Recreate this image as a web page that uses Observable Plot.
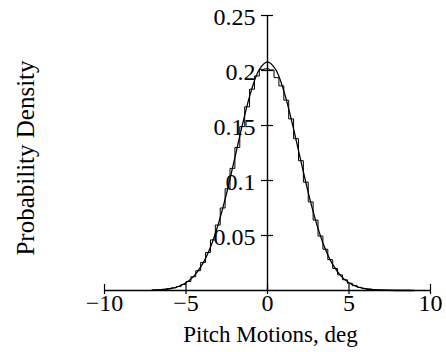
<!DOCTYPE html>
<html>
<head>
<meta charset="utf-8">
<script src="https://cdn.jsdelivr.net/npm/d3@7"></script>
<script src="https://cdn.jsdelivr.net/npm/@observablehq/plot@0.6"></script>
<style>
  html, body { margin: 0; padding: 0; background: #fff; }
  #chart svg { display: block; }
</style>
</head>
<body>
<div id="chart"></div>
<script>
// Histogram of pitch motions: first bin edge, bin width and density per bin
const binStart = -7.1;
const binWidth = 0.3;
const densities = [
  0.0006, 0.0008, 0.0010, 0.0016, 0.0024, 0.0036, 0.0055, 0.0082, 0.0125, 0.0180,
  0.0255, 0.0345, 0.0460, 0.0595, 0.0750, 0.0925, 0.1110, 0.1300, 0.1490, 0.1670,
  0.1830, 0.1950, 0.2010, 0.2015, 0.2005, 0.1935, 0.1860, 0.1730, 0.1560, 0.1380,
  0.1180, 0.0985, 0.0805, 0.0640, 0.0495, 0.0375, 0.0280, 0.0200, 0.0142, 0.0098,
  0.0066, 0.0044, 0.0028, 0.0018, 0.0012, 0.0008, 0.0006, 0.0005, 0.0004, 0.0003,
  0.0003, 0.0002, 0.0002
];

// Fitted normal density curve
const fitX = [-7, -6.5, -6, -5.5, -5, -4.5, -4, -3.5, -3, -2.5, -2, -1.5, -1, -0.5, 0,
              0.5, 1, 1.5, 2, 2.5, 3, 3.5, 4, 4.5, 5, 5.5, 6, 6.5, 7, 7.5, 8, 8.5, 9];
const fitY = [0.0003, 0.0007, 0.0016, 0.0034, 0.0070, 0.0133, 0.0237, 0.0394, 0.0613,
              0.0890, 0.1208, 0.1531, 0.1815, 0.2009, 0.2078, 0.2009, 0.1815, 0.1531,
              0.1208, 0.0890, 0.0613, 0.0394, 0.0237, 0.0133, 0.0070, 0.0034, 0.0016,
              0.0007, 0.0003, 0.0001, 0.0000, 0.0000, 0.0000];

// Axis ticks
const xTicks = [-10, -5, 0, 5, 10];
const xTickLabels = ["\u221210", "\u22125", "0", "5", "10"];
const yTicks = [0.05, 0.1, 0.15, 0.2, 0.25];
const yTickLabels = ["0.05", "0.1", "0.15", "0.2", "0.25"];

const xLabel = "Pitch Motions, deg";
const yLabel = "Probability Density";

// Outline of the histogram as a step path
const histPts = [{x: binStart, y: 0}];
densities.forEach((d, i) => histPts.push({x: binStart + i * binWidth, y: d}));
const binEnd = binStart + densities.length * binWidth;
histPts.push({x: binEnd, y: densities[densities.length - 1]});
histPts.push({x: binEnd, y: 0});

const fit = fitX.map((x, i) => ({x, y: fitY[i]}));

const font = "'Liberation Serif', 'Times New Roman', serif";
const fs = 24;

const chart = Plot.plot({
  width: 446,
  height: 352,
  marginLeft: 104,
  marginRight: 16,
  marginTop: 15,
  marginBottom: 62,
  style: {fontFamily: font, fontSize: fs + "px", background: "#fff", color: "#000"},
  x: {domain: [-10, 10], axis: null},
  y: {domain: [0, 0.25], axis: null},
  marks: [
    // axis lines crossing at the origin
    Plot.ruleY([0], {x1: -10, x2: 10, stroke: "#000", strokeWidth: 1.4}),
    Plot.ruleX([0], {y1: 0, y2: 0.25, stroke: "#000", strokeWidth: 1.4}),
    // tick marks
    Plot.ruleX(xTicks, {x: d => d, y1: 0, y2: 0, insetTop: -6, insetBottom: -4, stroke: "#000", strokeWidth: 1.2}),
    Plot.ruleY(yTicks, {y: d => d, x1: 0, x2: 0, insetLeft: -6, insetRight: -6, stroke: "#000", strokeWidth: 1.2}),
    // histogram and fitted curve
    Plot.line(histPts, {x: "x", y: "y", curve: "step-after", stroke: "#000", strokeWidth: 1}),
    Plot.line(fit, {x: "x", y: "y", curve: "catmull-rom", stroke: "#000", strokeWidth: 1.3}),
    // tick labels
    Plot.text(xTicks, {x: d => d, y: 0, text: (d, i) => xTickLabels[i], dy: 13, fontSize: fs, fill: "#000"}),
    Plot.text(yTicks, {x: 0, y: d => d, text: (d, i) => yTickLabels[i], textAnchor: "end", dx: -12, dy: 2, fontSize: fs, fill: "#000"}),
    // axis titles
    Plot.text([xLabel], {frameAnchor: "bottom", text: d => d, textAnchor: "middle", dx: 3, dy: 51, fontSize: 23, fill: "#000"}),
    Plot.text([yLabel], {frameAnchor: "left", text: d => d, textAnchor: "middle", rotate: -90, dx: -79, dy: 5, fontSize: 25, fill: "#000"})
  ]
});

document.getElementById("chart").appendChild(chart);
</script>
</body>
</html>
